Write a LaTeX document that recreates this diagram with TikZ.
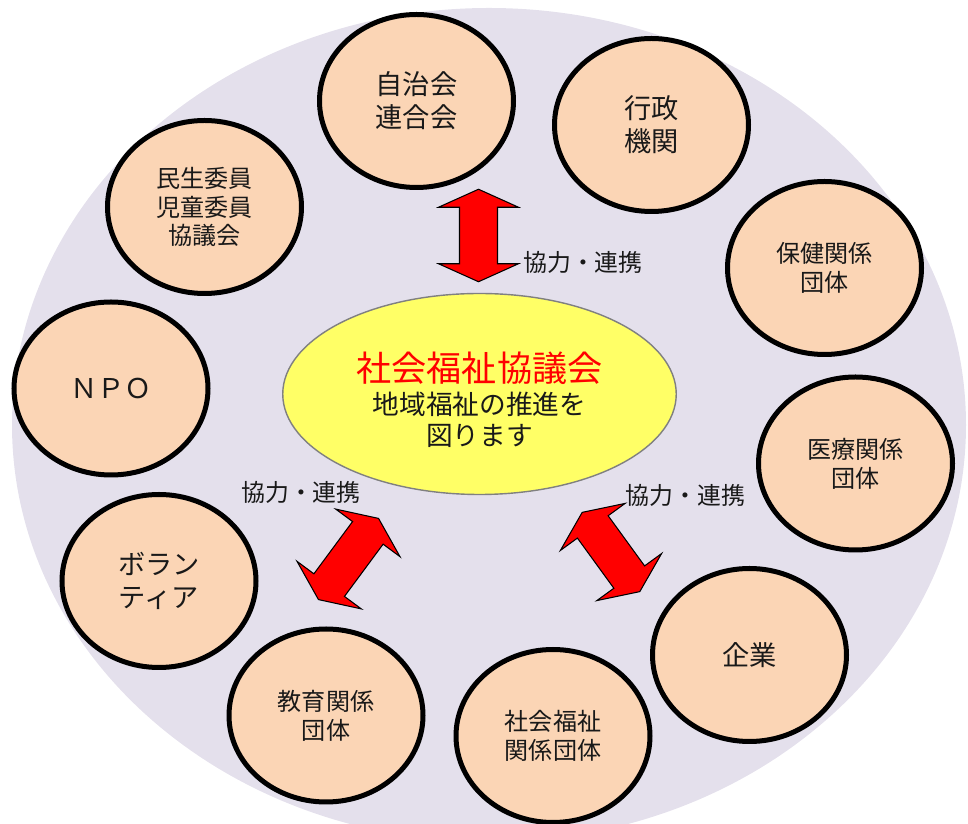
\documentclass[tikz,border=0pt]{standalone}
\usepackage{fontspec}
\setmainfont{Noto Sans CJK JP}
\usetikzlibrary{shapes.geometric}
\definecolor{bglav}{RGB}{228,224,236}
\definecolor{ringfill}{RGB}{251,213,181}
\definecolor{kyogifill}{RGB}{255,255,102}

\begin{document}
\begin{tikzpicture}[
	thick,
	font=\fontsize{13.7}{16.4}\selectfont
]
\tikzset{
    ring/.style = {ellipse, draw=black, line width=0.1cm, fill=ringfill, align=center,
                   minimum width=3.88cm, minimum height=3.46cm, inner sep=0pt, text=black!90},
    ringl/.style = {ring, font=\fontsize{15.5}{18.8}\selectfont},
    kyogi/.style = {ellipse, draw=gray, line width=0.8pt, fill=kyogifill, align=center,
                    minimum width=7.87cm, minimum height=4.02cm, inner sep=0pt, text=black!90,
                    font=\fontsize{15.2}{17.5}\selectfont},
    renkei/.style = {inner sep=0pt, text=black!90, font=\fontsize{13.6}{16}\selectfont},
    yafill/.style = {fill=red, draw=black, line width=0.6pt, line join=miter},
    renkeiya/.pic = {
        \draw[yafill] ({-#1/2},0) -- ({-#1/2+0.36},0.8) -- ({-#1/2+0.36},0.38)
            -- ({#1/2-0.36},0.38) -- ({#1/2-0.36},0.8) -- ({#1/2},0)
            -- ({#1/2-0.36},-0.8) -- ({#1/2-0.36},-0.38) -- ({-#1/2+0.36},-0.38)
            -- ({-#1/2+0.36},-0.8) -- cycle;
    },
}
\useasboundingbox (0,0) rectangle (19.36,16.48);
\fill[bglav] (9.78,7.98) ellipse [x radius=9.54, y radius=8.34];
%
\node[kyogi] at (9.59, 8.60) (shakyo) {\rule{0pt}{23pt}{\color{red}\fontsize{20}{24}\selectfont 社会福祉協議会}\\[1.6pt]
    地域福祉の推進を\\ 図ります};
%
\node[ringl] at (8.33, 14.46) (jichi) {自治会\\連合会};
\node[ringl] at (13.03, 13.98) (gyosei) {行政\\機関};
\node[ring] at (16.49, 11.12) (hoken) {保健関係\\団体};
\node[ring] at (17.11, 7.21) (iryo) {医療関係\\団体};
\node[ringl] at (14.99, 3.38) (kigyo) {企業};
\node[ring] at (11.06, 1.76) (fukushi) {社会福祉\\関係団体};
\node[ring] at (6.52, 2.17) (kyoiku) {教育関係\\団体};
\node[ringl] at (3.18, 4.86) (vol) {ボラン\\ティア};
\node[ringl] at (2.22, 8.71) (npo) {ＮＰＯ};
\node[ring] at (4.09, 12.34) (minsei) {民生委員\\児童委員\\協議会};
%
\pic[rotate=90] at (9.57, 11.77) {renkeiya=1.85};
\pic[rotate=53.5] at (6.97, 5.30) {renkeiya=2.02};
\pic[rotate=126] at (12.22, 5.44) {renkeiya=1.96};
%
\node[renkei] at (11.66, 11.24) (renkei1) {協力・連携};
\node[renkei] at (6.02, 6.64) (renkei2) {協力・連携};
\node[renkei] at (13.71, 6.58) (renkei3) {協力・連携};
\end{tikzpicture}
\end{document}
